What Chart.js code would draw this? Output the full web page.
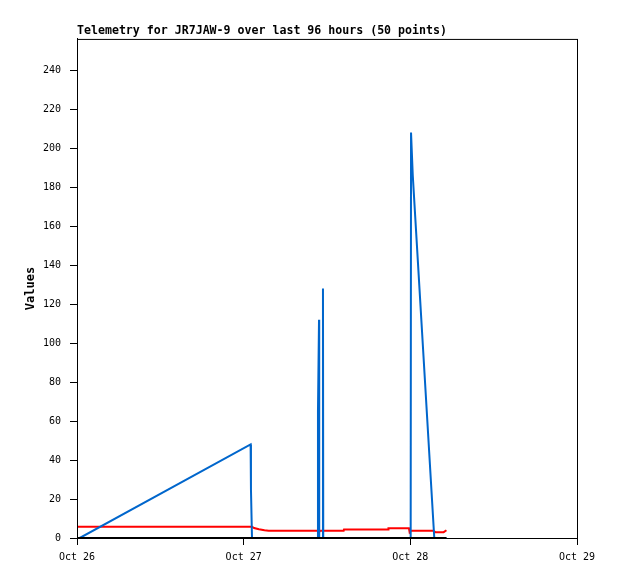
<!DOCTYPE html>
<html lang="en">
<head>
<meta charset="UTF-8" />
<title>Telemetry for JR7JAW-9</title>
<script src="https://cdn.jsdelivr.net/npm/chart.js"></script>
<style>
  body { margin: 0; background: #fff; }
  #wrap { width: 618px; height: 579px; }
</style>
</head>
<body>
<div id="wrap"><canvas id="telemetry" width="618" height="579"></canvas></div>
<script>
  // hours since Oct 26 00:00
  const xTickLabels = ["Oct 26", "Oct 27", "Oct 28", "Oct 29"];

  const blueHours  = [0.4, 25.0, 25.05, 25.2, 34.66, 34.7, 34.85, 34.88, 35.38, 35.42, 35.46, 48.05, 48.1, 48.35, 51.45, 53.2];
  const blueValues = [0,   48,   25,    0,    0,     65,   112,   0,     0,     128,   0,     0,     208,  186,   0,     0];

  const redHours  = [0,   25.2, 25.5, 26.2, 27.0, 27.6, 34.7, 34.8, 35.0, 38.4, 38.45, 44.8, 44.85, 47.8, 47.9, 48.1, 51.3, 51.6, 52.8, 53.2];
  const redValues = [5.8, 5.8,  5.1,  4.5,  4.0,  3.7,  3.7,  2.8,  3.7,  3.7,  4.4,   4.4,  5.0,   5.0,  2.9,  3.7,  3.7,  3.0,  3.0,  4.0];

  const blackHours  = [0, 53.2];
  const blackValues = [0, 0];

  function toPoints(xs, ys) {
    return xs.map((x, i) => ({ x: x, y: ys[i] }));
  }

  const frame = {
    id: "frame",
    afterDraw(chart) {
      const { ctx, chartArea: a } = chart;
      ctx.save();
      ctx.strokeStyle = "#000";
      ctx.lineWidth = 1;
      ctx.strokeRect(a.left + 0.5, a.top + 0.5, a.right - a.left, a.bottom - a.top);
      ctx.restore();
    },
  };

  const monoFont = "'DejaVu Sans Mono', 'Liberation Mono', monospace";

  new Chart(document.getElementById("telemetry").getContext("2d"), {
    type: "line",
    data: {
      datasets: [
        {
          label: "zero",
          data: toPoints(blackHours, blackValues),
          borderColor: "#000",
          borderWidth: 2,
          pointRadius: 0,
          order: 0,
        },
        {
          label: "blue",
          data: toPoints(blueHours, blueValues),
          borderColor: "#0066cc",
          borderWidth: 2,
          pointRadius: 0,
          order: 1,
        },
        {
          label: "red",
          data: toPoints(redHours, redValues),
          borderColor: "#ff0000",
          borderWidth: 2,
          pointRadius: 0,
          order: 2,
        },
      ],
    },
    options: {
      responsive: false,
      animation: false,
      layout: { padding: { left: 0, right: 41, top: 0, bottom: 0 } },
      plugins: {
        legend: { display: false },
        tooltip: { enabled: false },
        title: {
          display: true,
          text: "Telemetry for JR7JAW-9 over last 96 hours (50 points)",
          align: "start",
          fullSize: false,
          color: "#000",
          font: { family: monoFont, size: 11.6, weight: "bold", lineHeight: 1.2 },
          padding: { top: 24, bottom: 1 },
        },
      },
      scales: {
        x: {
          type: "linear",
          min: 0,
          max: 72,
          afterFit: (s) => { s.height = 41; },
          afterBuildTicks: (s) => { s.ticks = [0, 24, 48, 72].map((v) => ({ value: v })); },
          ticks: {
            color: "#000",
            padding: 6,
            maxRotation: 0,
            font: { family: monoFont, size: 10 },
            callback: (v) => xTickLabels[Math.round(v / 24)],
          },
          grid: { drawOnChartArea: false, drawTicks: true, tickLength: 7, color: "#000" },
          border: { display: true, color: "#000" },
        },
        y: {
          min: 0,
          max: 256,
          afterFit: (s) => { s.width = 77; },
          afterBuildTicks: (s) => { s.ticks = s.ticks.filter((t) => t.value <= 240); },
          ticks: {
            stepSize: 20,
            color: "#000",
            padding: 9,
            font: { family: monoFont, size: 10 },
          },
          grid: { drawOnChartArea: false, drawTicks: true, tickLength: 7, color: "#000" },
          border: { display: true, color: "#000" },
          title: {
            display: true,
            text: "Values",
            color: "#000",
            font: { family: monoFont, size: 12, weight: "bold", lineHeight: 1.2 },
            padding: { top: 24, bottom: 0 },
          },
        },
      },
    },
    plugins: [frame],
  });
</script>
</body>
</html>
